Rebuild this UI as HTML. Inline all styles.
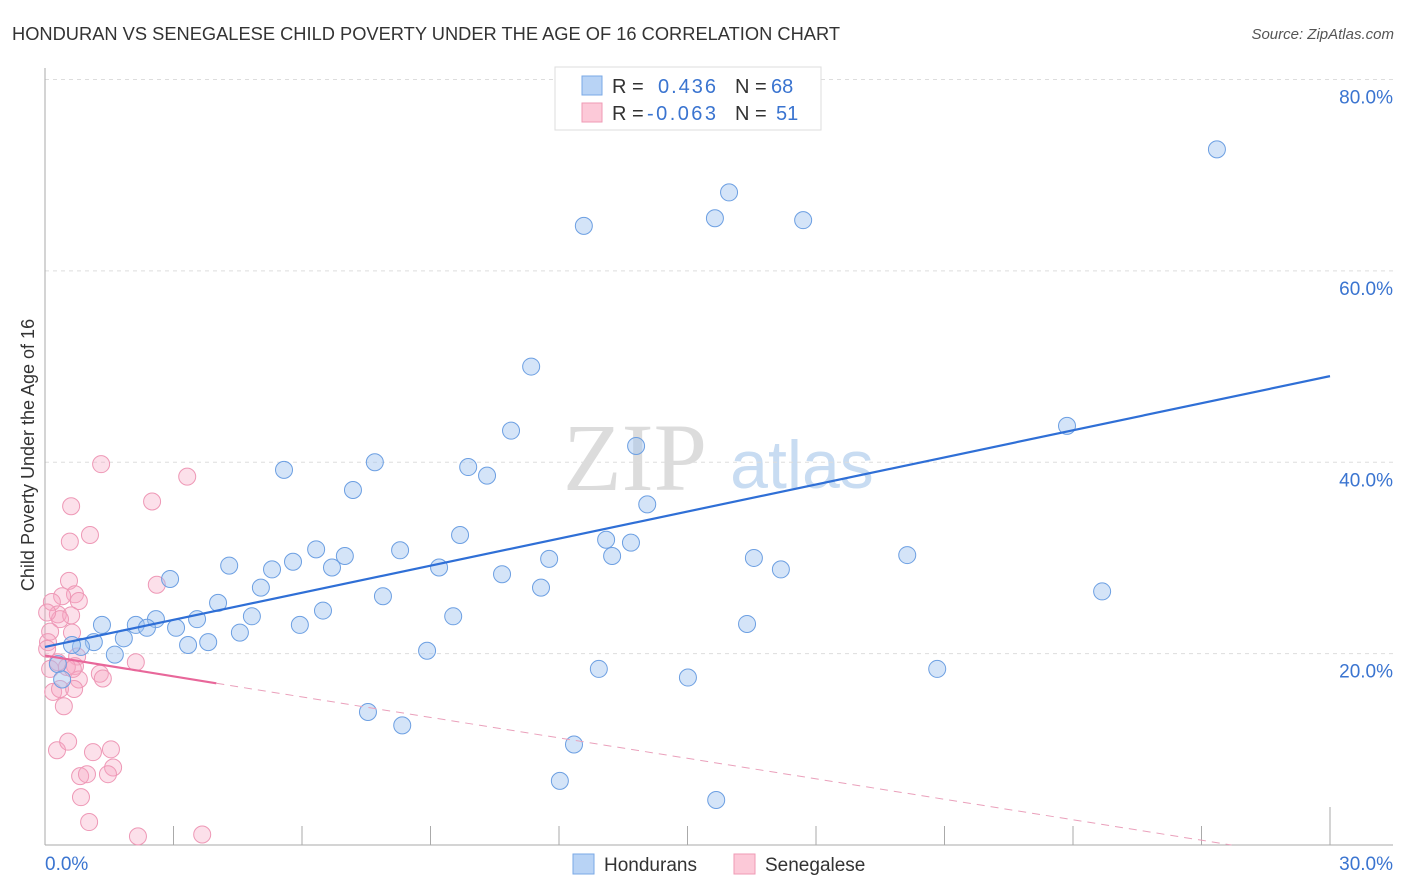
<!DOCTYPE html>
<html><head><meta charset="utf-8"><style>
body{margin:0;background:#fff;font-family:"Liberation Sans",sans-serif;}
#wrap{position:relative;width:1406px;height:892px;overflow:hidden;}
</style></head><body>
<div id="wrap">
<svg id="svg" width="1406" height="892" xmlns="http://www.w3.org/2000/svg">
<text x="12" y="40" font-size="18" fill="#333" textLength="828" lengthAdjust="spacingAndGlyphs">HONDURAN VS SENEGALESE CHILD POVERTY UNDER THE AGE OF 16 CORRELATION CHART</text>
<text x="1394" y="39" font-size="15" fill="#555" font-style="italic" text-anchor="end">Source: ZipAtlas.com</text>
<g>
<text x="635" y="490" font-size="96" fill="#dcdcdc" text-anchor="middle" font-family="Liberation Serif, serif">ZIP</text>
<text x="802" y="488" font-size="68" fill="#c8dcf2" text-anchor="middle">atlas</text>
</g>
<g id="grid"></g>
<g id="axes"></g>
<g id="marks"></g>
<text transform="translate(34,455) rotate(-90)" font-size="18" fill="#333" text-anchor="middle">Child Poverty Under the Age of 16</text>
<g>
<rect x="555" y="67" width="266" height="63" fill="#fff" stroke="#ddd"/>
<rect x="582" y="76" width="20" height="19" fill="#b8d3f5" stroke="#7aa8e6"/>
<rect x="582" y="103" width="20" height="19" fill="#fcc9d8" stroke="#ef9ab5"/>
<text x="612" y="93" font-size="20" fill="#333">R = </text><text x="658" y="93" font-size="20" fill="#3a74d0" textLength="58">0.436</text>
<text x="735" y="93" font-size="20" fill="#333">N = </text><text x="771" y="93" font-size="20" fill="#3a74d0">68</text>
<text x="612" y="120" font-size="20" fill="#333">R = </text><text x="647" y="120" font-size="20" fill="#3a74d0" textLength="69">-0.063</text>
<text x="735" y="120" font-size="20" fill="#333">N = </text><text x="776" y="120" font-size="20" fill="#3a74d0">51</text>
</g>
<g>
<rect x="573" y="854" width="21" height="20" fill="#b8d3f5" stroke="#7aa8e6"/>
<text x="604" y="871" font-size="19" fill="#333">Hondurans</text>
<rect x="734" y="854" width="21" height="20" fill="#fcc9d8" stroke="#ef9ab5"/>
<text x="765" y="871" font-size="19" fill="#333">Senegalese</text>
</g>
</svg>
</div>
<script>
const blueX=[27.36,15.97,15.64,17.70,12.58,11.35,23.86,10.88,13.80,7.70,5.58,9.88,10.32,7.19,14.06,9.69,6.33,8.29,7.00,13.10,13.68,11.77,13.24,16.55,20.13,4.30,5.79,5.30,6.70,9.20,10.67,17.18,2.92,5.04,11.58,24.68,7.89,4.04,6.49,2.59,4.83,3.55,9.53,1.33,2.12,2.38,3.06,5.95,16.39,4.55,1.84,1.14,3.34,3.81,0.84,0.63,1.63,8.92,12.93,20.83,15.01,0.30,0.40,7.54,8.34,12.35,12.02,15.67];
const blueY=[72.7,68.2,65.5,65.3,64.7,50.0,43.8,43.3,41.7,40.0,39.2,39.5,38.6,37.1,35.6,32.4,30.9,30.8,30.2,31.9,31.6,29.9,30.2,30.0,30.3,29.2,29.6,28.8,29.0,29.0,28.3,28.8,27.8,26.9,26.9,26.5,26.0,25.3,24.5,23.6,23.9,23.6,23.9,23.0,23.0,22.7,22.7,23.0,23.1,22.2,21.6,21.2,20.9,21.2,20.7,20.9,19.9,20.3,18.4,18.4,17.5,18.9,17.3,13.9,12.5,10.5,6.7,4.7];
const pinkX=[1.31,3.32,0.61,2.50,1.05,0.58,0.56,2.61,0.70,0.40,0.79,0.16,0.30,0.61,0.35,0.12,0.63,0.07,0.75,0.70,2.12,0.30,1.28,1.35,0.79,0.51,0.19,0.35,0.44,0.28,0.54,1.12,1.54,1.59,1.47,0.82,0.98,0.84,1.03,2.17,3.67,0.05,0.12,0.65,0.05,0.68];
const pinkY=[39.8,38.5,35.4,35.9,32.4,31.7,27.6,27.2,26.2,26.0,25.5,25.4,24.1,24.0,23.6,22.3,22.2,21.2,19.7,18.7,19.1,19.1,17.9,17.4,17.3,18.6,16.0,16.3,14.5,9.9,10.8,9.7,10.0,8.1,7.4,7.2,7.4,5.0,2.4,0.9,1.1,20.5,18.4,18.4,24.3,16.3];
const blueTrend=[0,20.7,30,49.0];
const pinkTrend=[0,19.8,4,16.9,27.7,0];
const yTicks=[20,40,60,80];
const xTickVals=[0,3,6,9,12,15,18,21,24,27,30];
const NS="http://www.w3.org/2000/svg";
const sx=v=>45+v*1285/30, sy=v=>845-v*765.5/80;
function mk(tag,attrs,parent){const e=document.createElementNS(NS,tag);for(const k in attrs)e.setAttribute(k,attrs[k]);parent.appendChild(e);return e;}
const grid=document.getElementById('grid'),axes=document.getElementById('axes'),marks=document.getElementById('marks');
yTicks.forEach(t=>{
 const l=mk('line',{x1:45,x2:1393,y1:sy(t),y2:sy(t),stroke:'#ddd','stroke-dasharray':'4,4'},grid);
 
 
 const tx=mk('text',{x:1393,y:sy(t)+24,'font-size':19,fill:'#3a74d0','text-anchor':'end'},axes);
 tx.textContent=t.toFixed(1)+'%';
 
 
});
const la=mk('line',{x1:45,x2:45,y1:68,y2:845,stroke:'#aaa'},axes);


const lb=mk('line',{x1:45,x2:1393,y1:845,y2:845,stroke:'#aaa'},axes);


xTickVals.forEach((t,i)=>{
 if(i===0)return;
 const tk=mk('line',{x1:sx(t),x2:sx(t),y1:i===xTickVals.length-1?807:826,y2:845,stroke:'#aaa'},axes);
 
 
});
[[0,'0.0%','start',45],[30,'30.0%','end',1393]].forEach(a=>{
 const tx=mk('text',{x:a[3],y:870,'font-size':19,fill:'#3a74d0','text-anchor':a[2]},axes);
 tx.textContent=a[1];
 
 
});
pinkX.forEach((x,i)=>{
 const c=mk('circle',{cx:sx(x),cy:sy(pinkY[i]),r:8.5,fill:'rgba(245,165,195,0.35)',stroke:'#ee98b6','stroke-width':1},marks);
 
 
});
blueX.forEach((x,i)=>{
 const c=mk('circle',{cx:sx(x),cy:sy(blueY[i]),r:8.5,fill:'rgba(160,196,240,0.45)',stroke:'#6c9fe2','stroke-width':1},marks);
 
 
});
const bt=mk('line',{x1:sx(blueTrend[0]),y1:sy(blueTrend[1]),x2:sx(blueTrend[2]),y2:sy(blueTrend[3]),stroke:'#2f6fd6','stroke-width':2.2},marks);


const pt=mk('line',{x1:sx(pinkTrend[0]),y1:sy(pinkTrend[1]),x2:sx(pinkTrend[2]),y2:sy(pinkTrend[3]),stroke:'#e8679a','stroke-width':2.2},marks);


const pd=mk('line',{x1:sx(pinkTrend[2]),y1:sy(pinkTrend[3]),x2:sx(pinkTrend[4]),y2:sy(pinkTrend[5]),stroke:'#eaa0bb','stroke-width':1,'stroke-dasharray':'8,6'},marks);


</script>
</body></html>
